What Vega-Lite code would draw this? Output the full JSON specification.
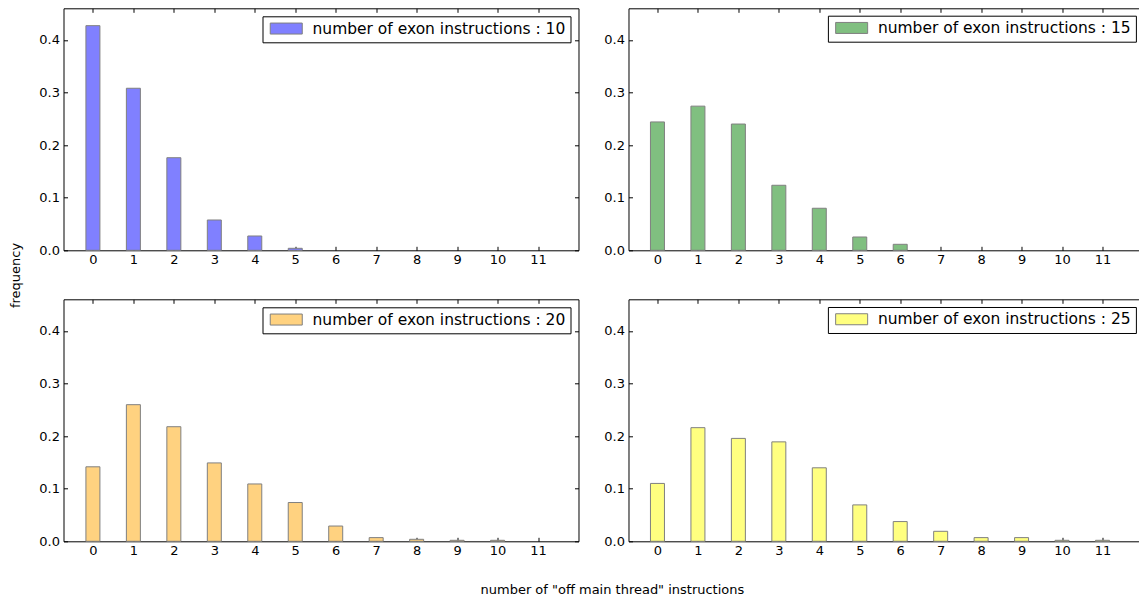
{
  "$schema": "https://vega.github.io/schema/vega-lite/v6.json",
  "padding": {"left": 8.5, "top": 7.3, "right": 0, "bottom": 4},
  "bounds": "flush",
  "columns": 2,
  "spacing": {"row": 49, "column": 50},
  "resolve": {"scale": {"color": "independent"}, "legend": {"color": "independent"}},
  "datasets": {
    "d": [
      {"exon": 10, "k": 0, "freq": 0.427}, {"exon": 10, "k": 1, "freq": 0.308}, {"exon": 10, "k": 2, "freq": 0.176},
      {"exon": 10, "k": 3, "freq": 0.0576}, {"exon": 10, "k": 4, "freq": 0.0272}, {"exon": 10, "k": 5, "freq": 0.0038},
      {"exon": 15, "k": 0, "freq": 0.244}, {"exon": 15, "k": 1, "freq": 0.274}, {"exon": 15, "k": 2, "freq": 0.240},
      {"exon": 15, "k": 3, "freq": 0.1236}, {"exon": 15, "k": 4, "freq": 0.0799}, {"exon": 15, "k": 5, "freq": 0.0253},
      {"exon": 15, "k": 6, "freq": 0.0114},
      {"exon": 20, "k": 0, "freq": 0.1416}, {"exon": 20, "k": 1, "freq": 0.2597}, {"exon": 20, "k": 2, "freq": 0.2178},
      {"exon": 20, "k": 3, "freq": 0.149}, {"exon": 20, "k": 4, "freq": 0.109}, {"exon": 20, "k": 5, "freq": 0.0737},
      {"exon": 20, "k": 6, "freq": 0.029}, {"exon": 20, "k": 7, "freq": 0.007}, {"exon": 20, "k": 8, "freq": 0.0038},
      {"exon": 20, "k": 9, "freq": 0.0019}, {"exon": 20, "k": 10, "freq": 0.0019},
      {"exon": 25, "k": 0, "freq": 0.110}, {"exon": 25, "k": 1, "freq": 0.216}, {"exon": 25, "k": 2, "freq": 0.1956},
      {"exon": 25, "k": 3, "freq": 0.189}, {"exon": 25, "k": 4, "freq": 0.1397}, {"exon": 25, "k": 5, "freq": 0.0692},
      {"exon": 25, "k": 6, "freq": 0.0375}, {"exon": 25, "k": 7, "freq": 0.019}, {"exon": 25, "k": 8, "freq": 0.007},
      {"exon": 25, "k": 9, "freq": 0.007}, {"exon": 25, "k": 10, "freq": 0.0019}, {"exon": 25, "k": 11, "freq": 0.0019}
    ]
  },
  "concat": [
    {
      "width": 515, "height": 242,
      "data": {"name": "d"},
      "transform": [{"filter": "datum.exon == 10"}],
      "layer": [
        {
          "mark": {"type": "bar", "size": 14, "stroke": "#808080", "strokeWidth": 1},
          "encoding": {
            "x": {"field": "k", "type": "quantitative", "scale": {"domain": [-0.727, 12], "nice": false, "zero": false, "padding": 0},
                  "axis": {"orient": "bottom", "values": [0,1,2,3,4,5,6,7,8,9,10,11], "tickSize": -4, "labelPadding": 7, "title": null}},
            "y": {"field": "freq", "type": "quantitative", "scale": {"domain": [0, 0.46], "nice": false, "padding": 0},
                  "axis": {"orient": "left", "values": [0,0.1,0.2,0.3,0.4], "format": ".1f", "tickSize": -4, "labelPadding": 8,
                           "title": "frequency", "titleX": -48.3, "titleY": 266.7, "titleAngle": 270, "titleBaseline": "middle", "titleAlign": "center"}},
            "color": {"datum": "number of exon instructions : 10", "scale": {"range": ["#8080ff"]},
                      "legend": {"orient": "top-right", "offset": 8}}
          }
        },
        {
          "mark": {"type": "bar", "size": 14, "opacity": 0},
          "encoding": {
            "x": {"field": "k", "type": "quantitative", "scale": {"domain": [-0.727, 12], "nice": false, "zero": false, "padding": 0},
                  "axis": {"orient": "top", "values": [0,1,2,3,4,5,6,7,8,9,10,11], "tickSize": -4, "labels": false, "title": null}},
            "y": {"field": "freq", "type": "quantitative", "scale": {"domain": [0, 0.46], "nice": false, "padding": 0},
                  "axis": {"orient": "right", "values": [0,0.1,0.2,0.3,0.4], "tickSize": -4, "labels": false, "title": null}}
          }
        }
      ],
      "resolve": {"axis": {"x": "independent", "y": "independent"}}
    },
    {
      "width": 510, "height": 242,
      "data": {"name": "d"},
      "transform": [{"filter": "datum.exon == 15"}],
      "layer": [
        {
          "mark": {"type": "bar", "size": 14, "stroke": "#808080", "strokeWidth": 1},
          "encoding": {
            "x": {"field": "k", "type": "quantitative", "scale": {"domain": [-0.716, 11.89], "nice": false, "zero": false, "padding": 0},
                  "axis": {"orient": "bottom", "values": [0,1,2,3,4,5,6,7,8,9,10,11], "tickSize": -4, "labelPadding": 7, "title": null}},
            "y": {"field": "freq", "type": "quantitative", "scale": {"domain": [0, 0.46], "nice": false, "padding": 0},
                  "axis": {"orient": "left", "values": [0,0.1,0.2,0.3,0.4], "format": ".1f", "tickSize": -4, "labelPadding": 8, "title": null}},
            "color": {"datum": "number of exon instructions : 15", "scale": {"range": ["#80bf80"]},
                      "legend": {"orient": "none", "legendX": 199.4, "legendY": 7.4}}
          }
        },
        {
          "mark": {"type": "bar", "size": 14, "opacity": 0},
          "encoding": {
            "x": {"field": "k", "type": "quantitative", "scale": {"domain": [-0.716, 11.89], "nice": false, "zero": false, "padding": 0},
                  "axis": {"orient": "top", "values": [0,1,2,3,4,5,6,7,8,9,10,11], "tickSize": -4, "labels": false, "title": null}},
            "y": {"field": "freq", "type": "quantitative", "scale": {"domain": [0, 0.46], "nice": false, "padding": 0}, "axis": null}
          }
        }
      ],
      "resolve": {"axis": {"x": "independent", "y": "independent"}}
    },
    {
      "width": 515, "height": 242,
      "data": {"name": "d"},
      "transform": [{"filter": "datum.exon == 20"}],
      "layer": [
        {
          "mark": {"type": "bar", "size": 14, "stroke": "#808080", "strokeWidth": 1},
          "encoding": {
            "x": {"field": "k", "type": "quantitative", "scale": {"domain": [-0.727, 12], "nice": false, "zero": false, "padding": 0},
                  "axis": {"orient": "bottom", "values": [0,1,2,3,4,5,6,7,8,9,10,11], "tickSize": -4, "labelPadding": 7,
                           "title": "number of \"off main thread\" instructions", "titleX": 548.4, "titleY": 48.7, "titleBaseline": "middle", "titleAlign": "center"}},
            "y": {"field": "freq", "type": "quantitative", "scale": {"domain": [0, 0.46], "nice": false, "padding": 0},
                  "axis": {"orient": "left", "values": [0,0.1,0.2,0.3,0.4], "format": ".1f", "tickSize": -4, "labelPadding": 8, "title": null}},
            "color": {"datum": "number of exon instructions : 20", "scale": {"range": ["#ffd280"]},
                      "legend": {"orient": "top-right", "offset": 8}}
          }
        },
        {
          "mark": {"type": "bar", "size": 14, "opacity": 0},
          "encoding": {
            "x": {"field": "k", "type": "quantitative", "scale": {"domain": [-0.727, 12], "nice": false, "zero": false, "padding": 0},
                  "axis": {"orient": "top", "values": [0,1,2,3,4,5,6,7,8,9,10,11], "tickSize": -4, "labels": false, "title": null}},
            "y": {"field": "freq", "type": "quantitative", "scale": {"domain": [0, 0.46], "nice": false, "padding": 0},
                  "axis": {"orient": "right", "values": [0,0.1,0.2,0.3,0.4], "tickSize": -4, "labels": false, "title": null}}
          }
        }
      ],
      "resolve": {"axis": {"x": "independent", "y": "independent"}}
    },
    {
      "width": 510, "height": 242,
      "data": {"name": "d"},
      "transform": [{"filter": "datum.exon == 25"}],
      "layer": [
        {
          "mark": {"type": "bar", "size": 14, "stroke": "#808080", "strokeWidth": 1},
          "encoding": {
            "x": {"field": "k", "type": "quantitative", "scale": {"domain": [-0.716, 11.89], "nice": false, "zero": false, "padding": 0},
                  "axis": {"orient": "bottom", "values": [0,1,2,3,4,5,6,7,8,9,10,11], "tickSize": -4, "labelPadding": 7, "title": null}},
            "y": {"field": "freq", "type": "quantitative", "scale": {"domain": [0, 0.46], "nice": false, "padding": 0},
                  "axis": {"orient": "left", "values": [0,0.1,0.2,0.3,0.4], "format": ".1f", "tickSize": -4, "labelPadding": 8, "title": null}},
            "color": {"datum": "number of exon instructions : 25", "scale": {"range": ["#ffff80"]},
                      "legend": {"orient": "none", "legendX": 199.4, "legendY": 7.7}}
          }
        },
        {
          "mark": {"type": "bar", "size": 14, "opacity": 0},
          "encoding": {
            "x": {"field": "k", "type": "quantitative", "scale": {"domain": [-0.716, 11.89], "nice": false, "zero": false, "padding": 0},
                  "axis": {"orient": "top", "values": [0,1,2,3,4,5,6,7,8,9,10,11], "tickSize": -4, "labels": false, "title": null}},
            "y": {"field": "freq", "type": "quantitative", "scale": {"domain": [0, 0.46], "nice": false, "padding": 0}, "axis": null}
          }
        }
      ],
      "resolve": {"axis": {"x": "independent", "y": "independent"}}
    }
  ],
  "config": {
    "view": {"stroke": null},
    "font": "DejaVu Sans",
    "axis": {"grid": false, "domainColor": "black", "domainWidth": 1, "tickColor": "black", "tickWidth": 1,
             "labelColor": "black", "labelFont": "DejaVu Sans", "labelFontSize": 13, "labelFlush": false, "labelOverlap": false,
             "titleFont": "DejaVu Sans", "titleFontSize": 13, "titleFontWeight": "normal", "titleColor": "black"},
    "legend": {"title": null, "padding": 4.5, "strokeColor": "black", "fillColor": "white", "cornerRadius": 0,
               "labelFont": "DejaVu Sans", "labelFontSize": 15.5, "labelColor": "black", "labelLimit": 500,
               "symbolType": "M-2.667,-0.917H2.667V0.917H-2.667Z", "symbolSize": 144,
               "symbolStrokeColor": "#808080", "symbolStrokeWidth": 1, "symbolOffset": 11.5, "labelOffset": 18.5}
  }
}
